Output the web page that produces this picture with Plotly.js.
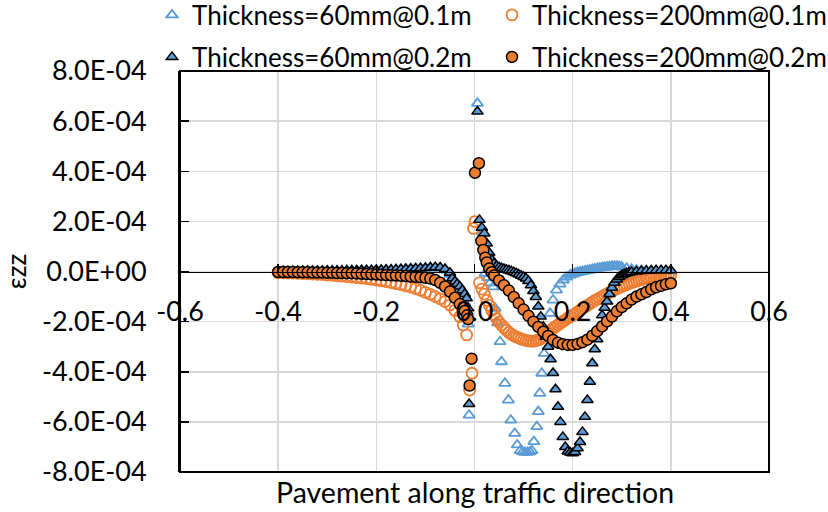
<!DOCTYPE html>
<html>
<head>
<meta charset="utf-8">
<script src="https://cdn.plot.ly/plotly-3.0.1.min.js"></script>
<style>html,body{margin:0;padding:0;background:#fff;}#chart{width:828px;height:512px;}</style>
</head>
<body>
<div id="chart"></div>
<script>
// strain values are given in units of 1E-04
const UNIT = 1e-4;

// Thickness=60mm@0.1m
const A_x = [-0.40,-0.39,-0.38,-0.37,-0.36,-0.35,-0.34,-0.33,-0.32,-0.31,-0.30,-0.29,-0.28,-0.27,-0.26,-0.25,-0.24,-0.23,-0.22,-0.21,-0.20,-0.19,-0.18,-0.17,-0.16,-0.15,-0.14,-0.13,-0.12,-0.11,-0.10,-0.09,-0.08,-0.07,-0.06,-0.05,-0.04,-0.035,-0.03,-0.025,-0.02,-0.015,-0.013,-0.011,0.006,0.017,0.022,0.027,0.032,0.038,0.042,0.047,0.052,0.055,0.062,0.069,0.074,0.082,0.087,0.093,0.098,0.103,0.108,0.113,0.117,0.121,0.127,0.130,0.133,0.137,0.142,0.147,0.154,0.160,0.167,0.174,0.181,0.188,0.195,0.200,0.205,0.210,0.215,0.220,0.225,0.230,0.235,0.240,0.245,0.250,0.255,0.260,0.265,0.270,0.275,0.280,0.285,0.290,0.295,0.300,0.31,0.32,0.33,0.34,0.35,0.36,0.37,0.38,0.39,0.40];
const A_y = [0.00,0.00,0.00,0.00,0.01,0.01,0.01,0.01,0.01,0.02,0.02,0.02,0.02,0.03,0.03,0.03,0.04,0.04,0.04,0.05,0.05,0.06,0.06,0.07,0.08,0.09,0.10,0.11,0.12,0.13,0.14,0.15,0.15,0.13,0.06,-0.12,-0.40,-0.58,-0.75,-1.00,-1.25,-1.60,-2.10,-5.73,6.71,1.55,-0.07,-0.25,-0.45,-0.61,-1.47,-2.05,-2.80,-3.60,-4.46,-5.13,-5.93,-6.46,-6.92,-7.15,-7.20,-7.22,-7.22,-7.20,-7.15,-6.79,-6.19,-5.59,-4.86,-4.06,-3.27,-2.47,-1.67,-1.14,-0.74,-0.50,-0.34,-0.22,-0.14,-0.10,-0.07,-0.04,-0.02,0.00,0.02,0.04,0.06,0.08,0.10,0.12,0.14,0.16,0.17,0.18,0.19,0.20,0.21,0.21,0.20,0.18,0.13,0.09,0.06,0.04,0.03,0.03,0.02,0.02,0.02,0.02];

// Thickness=200mm@0.1m
const B_x = [-0.40,-0.39,-0.38,-0.37,-0.36,-0.35,-0.34,-0.33,-0.32,-0.31,-0.30,-0.29,-0.28,-0.27,-0.26,-0.25,-0.24,-0.23,-0.22,-0.21,-0.20,-0.19,-0.18,-0.17,-0.16,-0.15,-0.14,-0.13,-0.12,-0.11,-0.10,-0.09,-0.08,-0.07,-0.06,-0.05,-0.04,-0.03,-0.023,-0.016,-0.010,-0.005,-0.002,0.001,0.010,0.015,0.020,0.025,0.030,0.035,0.040,0.045,0.050,0.055,0.060,0.065,0.070,0.075,0.080,0.085,0.090,0.095,0.100,0.105,0.110,0.115,0.120,0.125,0.130,0.135,0.140,0.145,0.150,0.155,0.160,0.165,0.170,0.175,0.180,0.185,0.190,0.195,0.200,0.205,0.210,0.215,0.220,0.225,0.230,0.235,0.240,0.245,0.250,0.255,0.260,0.265,0.270,0.275,0.280,0.285,0.290,0.295,0.300,0.305,0.310,0.315,0.320,0.325,0.330,0.335,0.340,0.345,0.350,0.355,0.360,0.365,0.370,0.375,0.380,0.385,0.390,0.395,0.400];
const B_y = [-0.05,-0.05,-0.06,-0.06,-0.07,-0.08,-0.09,-0.10,-0.11,-0.12,-0.14,-0.15,-0.17,-0.18,-0.20,-0.22,-0.24,-0.26,-0.28,-0.31,-0.34,-0.37,-0.40,-0.44,-0.48,-0.52,-0.57,-0.62,-0.68,-0.75,-0.83,-0.91,-1.00,-1.09,-1.20,-1.34,-1.55,-1.80,-2.13,-2.53,-4.73,-4.06,1.72,1.99,-0.45,-0.70,-0.90,-1.15,-1.35,-1.55,-1.72,-1.88,-2.02,-2.13,-2.24,-2.34,-2.43,-2.50,-2.56,-2.61,-2.65,-2.69,-2.72,-2.75,-2.77,-2.78,-2.78,-2.76,-2.73,-2.68,-2.61,-2.52,-2.43,-2.35,-2.27,-2.20,-2.13,-2.06,-1.99,-1.93,-1.86,-1.80,-1.74,-1.68,-1.61,-1.55,-1.48,-1.42,-1.35,-1.29,-1.22,-1.16,-1.11,-1.05,-1.00,-0.94,-0.89,-0.83,-0.78,-0.73,-0.69,-0.64,-0.60,-0.56,-0.52,-0.48,-0.44,-0.41,-0.38,-0.35,-0.32,-0.30,-0.28,-0.26,-0.24,-0.22,-0.21,-0.20,-0.19,-0.18,-0.17,-0.16,-0.15];

// Thickness=60mm@0.2m
const C_x = [-0.40,-0.39,-0.38,-0.37,-0.36,-0.35,-0.34,-0.33,-0.32,-0.31,-0.30,-0.29,-0.28,-0.27,-0.26,-0.25,-0.24,-0.23,-0.22,-0.21,-0.20,-0.19,-0.18,-0.17,-0.16,-0.15,-0.14,-0.13,-0.12,-0.11,-0.10,-0.09,-0.08,-0.07,-0.06,-0.05,-0.045,-0.04,-0.035,-0.03,-0.025,-0.02,-0.016,-0.013,-0.011,0.006,0.010,0.015,0.020,0.025,0.030,0.035,0.040,0.045,0.050,0.055,0.060,0.065,0.070,0.075,0.080,0.085,0.090,0.095,0.100,0.105,0.110,0.115,0.120,0.125,0.130,0.135,0.140,0.145,0.150,0.155,0.160,0.165,0.170,0.175,0.180,0.185,0.190,0.195,0.200,0.205,0.210,0.215,0.220,0.225,0.230,0.235,0.240,0.245,0.250,0.255,0.260,0.265,0.270,0.275,0.280,0.285,0.290,0.295,0.300,0.305,0.310,0.315,0.320,0.33,0.34,0.35,0.36,0.37,0.38,0.39,0.40];
const C_y = [0.01,0.01,0.01,0.01,0.01,0.02,0.02,0.02,0.02,0.02,0.03,0.03,0.03,0.03,0.04,0.04,0.04,0.05,0.05,0.05,0.06,0.06,0.07,0.07,0.08,0.09,0.10,0.11,0.12,0.13,0.14,0.16,0.17,0.16,0.10,-0.05,-0.27,-0.40,-0.50,-0.60,-0.75,-0.90,-1.07,-1.47,-5.29,6.38,2.06,1.75,1.52,1.12,0.75,0.48,0.32,0.22,0.17,0.13,0.10,0.07,0.04,0.01,-0.03,-0.07,-0.12,-0.17,-0.22,-0.28,-0.38,-0.55,-0.78,-1.02,-1.40,-1.80,-2.20,-2.60,-3.00,-3.50,-4.05,-4.70,-5.40,-6.00,-6.60,-7.00,-7.18,-7.22,-7.25,-7.20,-7.05,-6.80,-6.40,-5.80,-5.13,-4.40,-3.66,-3.10,-2.70,-2.20,-1.75,-1.45,-1.20,-0.90,-0.65,-0.45,-0.32,-0.22,-0.15,-0.10,-0.07,-0.04,-0.02,0.00,0.02,0.03,0.04,0.05,0.05,0.05,0.05];

// Thickness=200mm@0.2m
const D_x = [-0.40,-0.39,-0.38,-0.37,-0.36,-0.35,-0.34,-0.33,-0.32,-0.31,-0.30,-0.29,-0.28,-0.27,-0.26,-0.25,-0.24,-0.23,-0.22,-0.21,-0.20,-0.19,-0.18,-0.17,-0.16,-0.15,-0.14,-0.13,-0.12,-0.11,-0.10,-0.09,-0.08,-0.07,-0.06,-0.05,-0.04,-0.03,-0.02,-0.015,-0.013,-0.010,-0.006,0.001,0.009,0.014,0.018,0.022,0.025,0.030,0.035,0.04,0.05,0.06,0.07,0.08,0.09,0.10,0.11,0.12,0.13,0.14,0.15,0.16,0.17,0.18,0.19,0.20,0.21,0.22,0.23,0.24,0.25,0.26,0.27,0.28,0.29,0.30,0.31,0.32,0.33,0.34,0.35,0.36,0.37,0.38,0.39,0.40];
const D_y = [-0.02,-0.02,-0.02,-0.02,-0.03,-0.03,-0.03,-0.04,-0.04,-0.04,-0.05,-0.05,-0.06,-0.06,-0.07,-0.07,-0.08,-0.09,-0.10,-0.11,-0.12,-0.13,-0.14,-0.15,-0.16,-0.17,-0.18,-0.20,-0.21,-0.23,-0.25,-0.28,-0.34,-0.45,-0.60,-0.80,-1.05,-1.30,-1.58,-1.75,-1.90,-4.55,-3.48,3.94,4.32,1.22,0.86,0.55,0.36,0.12,-0.03,-0.16,-0.36,-0.55,-0.76,-1.02,-1.27,-1.52,-1.77,-2.00,-2.21,-2.40,-2.57,-2.73,-2.84,-2.90,-2.93,-2.93,-2.89,-2.82,-2.72,-2.56,-2.38,-2.19,-1.99,-1.80,-1.59,-1.42,-1.27,-1.12,-1.00,-0.91,-0.82,-0.71,-0.63,-0.57,-0.51,-0.47];

const seriesNames = ['Thickness=60mm@0.1m','Thickness=200mm@0.1m','Thickness=60mm@0.2m','Thickness=200mm@0.2m'];

const xTickVals = [-0.6,-0.4,-0.2,0,0.2,0.4,0.6];
const xTickText = ['-0.6','-0.4','-0.2','0.0','0.2','0.4','0.6'];
const yTickVals = [-8e-4,-6e-4,-4e-4,-2e-4,0,2e-4,4e-4,6e-4,8e-4];
const yTickText = ['-8.0E-04','-6.0E-04','-4.0E-04','-2.0E-04','0.0E+00','2.0E-04','4.0E-04','6.0E-04','8.0E-04'];
const xTitle = 'Pavement along traffic direction';
const yTitle = 'εzz';

const BLUE = '#5B9BD5', ORANGE = '#ED7D31';
const sc = v => v.map(d => d * UNIT);

const traces = [
  {x:A_x, y:sc(A_y), name:seriesNames[0], mode:'markers', type:'scatter', legend:'legend',
   marker:{symbol:'triangle-up-open', size:10, color:BLUE, line:{color:BLUE, width:1.8}}},
  {x:B_x, y:sc(B_y), name:seriesNames[1], mode:'markers', type:'scatter', legend:'legend2',
   marker:{symbol:'circle-open', size:11, color:ORANGE, line:{color:ORANGE, width:1.8}}},
  {x:C_x, y:sc(C_y), name:seriesNames[2], mode:'markers', type:'scatter', legend:'legend3',
   marker:{symbol:'triangle-up', size:10, color:BLUE, line:{color:'#000', width:1.5}}},
  {x:D_x, y:sc(D_y), name:seriesNames[3], mode:'markers', type:'scatter', legend:'legend4',
   marker:{symbol:'circle', size:11, color:ORANGE, line:{color:'#000', width:1.5}}}
];

const FONT = 'Lato, "Open Sans", sans-serif';
const legendBase = {orientation:'h', xref:'container', yref:'container', xanchor:'left', yanchor:'middle',
  font:{family:FONT, size:26, color:'#000'}, bgcolor:'rgba(0,0,0,0)', borderwidth:0};
const L = (x, y) => Object.assign({}, legendBase, {x:x/828, y:1 - y/512});

const layout = {
  width:828, height:512,
  margin:{l:180, r:59, t:71, b:40, autoexpand:false},
  paper_bgcolor:'#fff', plot_bgcolor:'#fff',
  font:{family:FONT, color:'#000', size:27},
  showlegend:true,
  legend:L(152, 15), legend2:L(492, 15), legend3:L(152, 57), legend4:L(492, 57),
  xaxis:{range:[-0.6,0.6], tickvals:xTickVals, ticktext:xTickText,
    showgrid:true, gridcolor:'#d9d9d9', gridwidth:1.5, zeroline:false,
    showline:true, linecolor:'#000', linewidth:1.75,
    anchor:'free', position:0.5, ticks:'inside', ticklen:8, tickwidth:1.5, tickcolor:'#000',
    ticklabelstandoff:15, tickfont:{family:FONT, size:27, color:'#000'}},
  yaxis:{range:[-8e-4,8e-4], tickvals:yTickVals, ticktext:yTickText,
    showgrid:true, gridcolor:'#d9d9d9', gridwidth:1.5, zeroline:false,
    showline:true, linecolor:'#000', linewidth:2,
    ticks:'inside', ticklen:9, tickwidth:1.5, tickcolor:'#000',
    ticklabelstandoff:26, tickfont:{family:FONT, size:27, color:'#000'},
    title:{text:yTitle, font:{family:FONT, size:26, color:'#000'}, standoff:14}},
  shapes:[{type:'rect', xref:'paper', yref:'paper', x0:0, x1:1, y0:0, y1:1,
    line:{color:'#000', width:2}, fillcolor:'rgba(0,0,0,0)', layer:'above'}],
  annotations:[{text:xTitle, xref:'paper', yref:'paper', x:0.5, y:0, yshift:-20,
    xanchor:'center', yanchor:'middle', showarrow:false,
    font:{family:FONT, size:28.5, color:'#000'}}]
};

Plotly.newPlot('chart', traces, layout, {displayModeBar:false, staticPlot:true});
</script>
</body>
</html>
